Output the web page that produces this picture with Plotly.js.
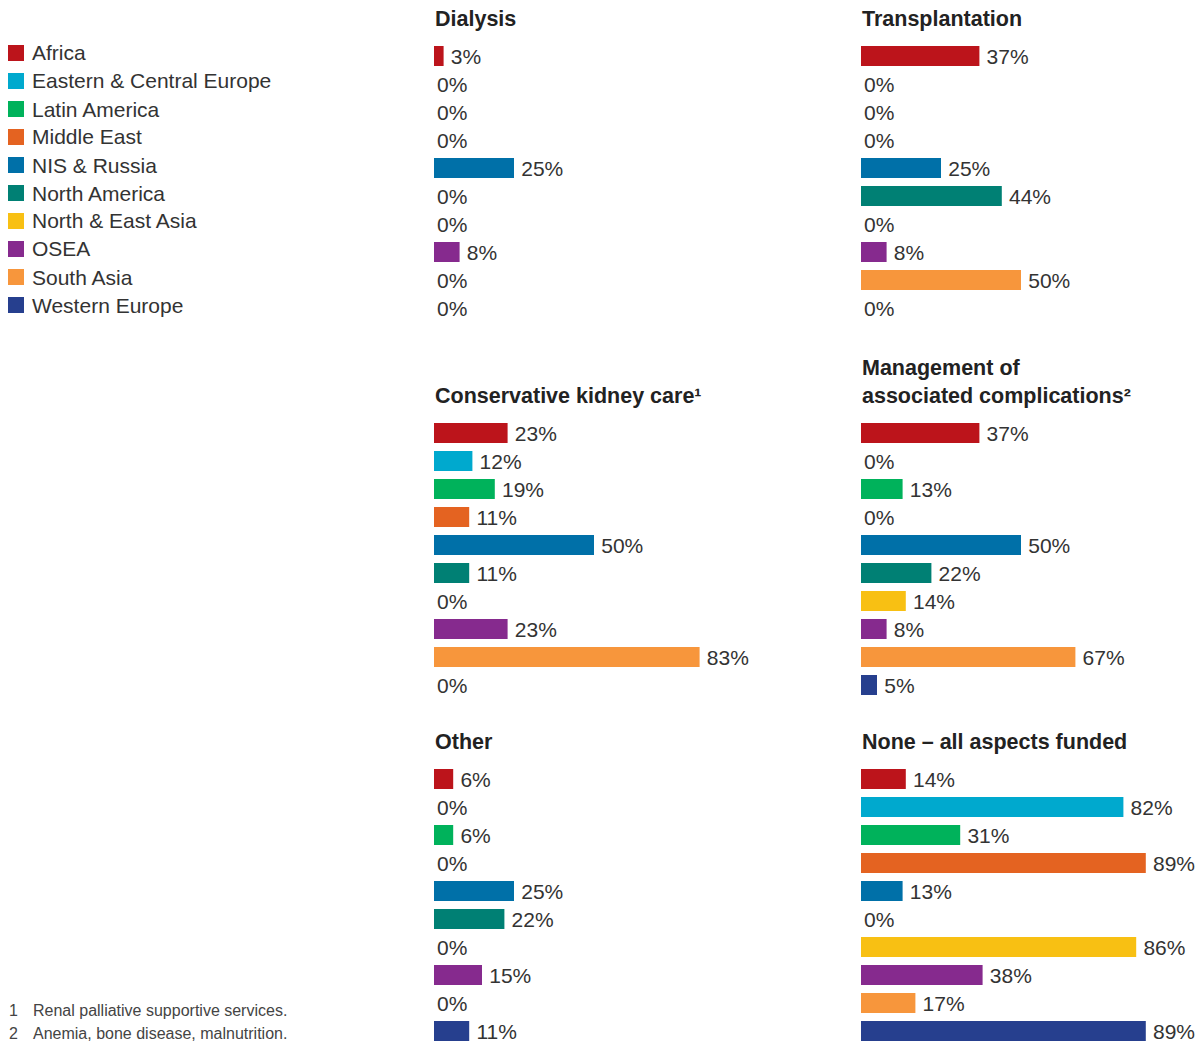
<!DOCTYPE html>
<html><head><meta charset="utf-8">
<script src="https://cdn.plot.ly/plotly-3.0.1.min.js"></script>
<style>html,body{margin:0;padding:0;background:#fff}</style>
</head><body><div id="chart" style="width:1202px;height:1045px"></div>
<script>
const regions = ["Africa","Eastern & Central Europe","Latin America","Middle East","NIS & Russia","North America","North & East Asia","OSEA","South Asia","Western Europe"];
const regionColors = ["#BC141B","#00A9CE","#00B25B","#E46321","#0070A8","#008074","#F8C013","#862A8E","#F7963C","#263F8E"];

const dialysis        = [3,0,0,0,25,0,0,8,0,0];
const transplantation = [37,0,0,0,25,44,0,8,50,0];
const conservative    = [23,12,19,11,50,11,0,23,83,0];
const complications   = [37,0,13,0,50,22,14,8,67,5];
const other           = [6,0,6,0,25,22,0,15,0,11];
const noneFunded      = [14,82,31,89,13,0,86,38,17,89];

const panelTitles = [["Dialysis"],["Transplantation"],["Conservative kidney care¹"],["Management of","associated complications²"],["Other"],["None – all aspects funded"]];
const footnotes = [["1","Renal palliative supportive services."],["2","Anemia, bone disease, malnutrition."]];

const W = 1202, H = 1045;
const FONT = "Liberation Sans, Arial, sans-serif";
const panelData = [dialysis, transplantation, conservative, complications, other, noneFunded];
// layout geometry (pixels)
const colLeft = [434, 861];
const rowTop = [42, 419, 765];
const rowTitleY = [19, 396, 742];
const plotW = 320, plotH = 280;
const px = v => v / W, py = v => 1 - v / H;

const traces = [];
const layout = {
  width: W, height: H,
  margin: {l:0, r:0, t:0, b:0},
  paper_bgcolor: "#fff", plot_bgcolor: "rgba(0,0,0,0)",
  barmode: "overlay", bargap: 8/28,
  showlegend: false,
  annotations: [], shapes: [],
  font: {family: FONT, color: "#333"}
};

panelData.forEach((vals, p) => {
  const col = p % 2, row = Math.floor(p / 2);
  const ax = p === 0 ? "" : String(p + 1);
  const x0 = colLeft[col], top = rowTop[row];
  layout["xaxis" + ax] = {domain: [px(x0), px(x0 + plotW)], range: [0, 100], visible: false, fixedrange: true, anchor: "y" + ax};
  layout["yaxis" + ax] = {domain: [py(top + plotH), py(top)], type: "category", categoryarray: regions,
                          categoryorder: "array", range: [9.5, -0.5], visible: false, fixedrange: true, anchor: "x" + ax};
  regions.forEach((r, i) => {
    traces.push({
      type: "bar", orientation: "h",
      x: [vals[i]], y: [r], name: r,
      xaxis: "x" + ax, yaxis: "y" + ax,
      marker: {color: regionColors[i], line: {width: 0}},
      text: [(vals[i] > 0 ? "\u2009" : "") + vals[i] + "%"], textposition: "outside", cliponaxis: false,
      constraintext: "none",
      textfont: {family: FONT, size: 21, color: "#333"},
      legendgroup: r, showlegend: false, hoverinfo: "x+name"
    });
  });
  const lines = panelTitles[p];
  lines.forEach((t, k) => {
    layout.annotations.push({
      xref: "paper", yref: "paper", x: px(x0 - 1), y: py(rowTitleY[row] - (lines.length - 1 - k) * 28),
      xanchor: "left", yanchor: "middle", showarrow: false, text: "<b>" + t + "</b>",
      font: {family: FONT, size: 21.5, color: "#222"}
    });
  });
});

// legend (swatch + label per region)
regions.forEach((r, i) => {
  const cy = 53 + i * 28;
  layout.shapes.push({type: "rect", xref: "paper", yref: "paper", x0: px(8), x1: px(24), y0: py(cy + 8), y1: py(cy - 8),
                      fillcolor: regionColors[i], line: {width: 0}});
  layout.annotations.push({xref: "paper", yref: "paper", x: px(30), y: py(cy), xanchor: "left", yanchor: "middle",
                           showarrow: false, text: r, font: {family: FONT, size: 21, color: "#333"}});
});

footnotes.forEach((f, k) => {
  const y = py(1010 + k * 23);
  layout.annotations.push({xref: "paper", yref: "paper", x: px(7), y: y, xanchor: "left", yanchor: "middle",
    showarrow: false, text: f[0], font: {family: FONT, size: 16, color: "#444"}});
  layout.annotations.push({xref: "paper", yref: "paper", x: px(31), y: y, xanchor: "left", yanchor: "middle",
    showarrow: false, text: f[1], font: {family: FONT, size: 16, color: "#444"}});
});

Plotly.newPlot("chart", traces, layout, {displayModeBar: false});
</script></body></html>
